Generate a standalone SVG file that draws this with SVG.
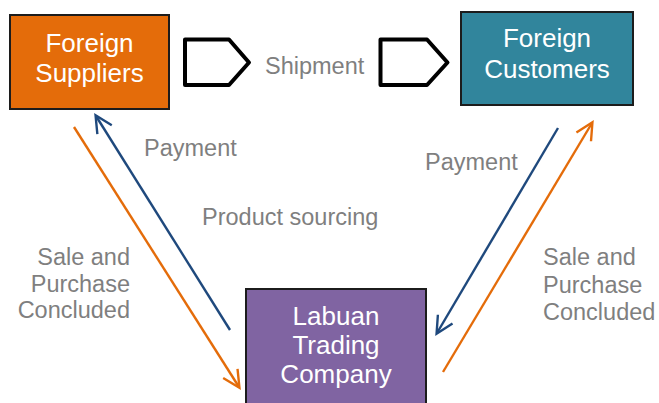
<svg xmlns="http://www.w3.org/2000/svg" width="659" height="403" viewBox="0 0 659 403">
  <style>
    .box { stroke: #1c1c1c; stroke-width: 2; }
    .ntext { font-family: "Liberation Sans", Arial, sans-serif; font-size: 26px; fill: #ffffff; text-anchor: middle; }
    .label { font-family: "Liberation Sans", Arial, sans-serif; font-size: 23.5px; fill: #7f7f7f; }
    .tag { fill: #ffffff; stroke: #000000; stroke-width: 4; stroke-linejoin: round; }
    .blue { stroke: #1f497d; stroke-width: 2.4; fill: none; }
    .orange { stroke: #e46c0a; stroke-width: 2.4; fill: none; }
  </style>
  <defs>
    <marker id="headBlue" viewBox="0 0 10 10" refX="9.5" refY="5" markerWidth="17" markerHeight="17" markerUnits="userSpaceOnUse" orient="auto" overflow="visible">
      <path d="M0,0 L10,5 L0,10" fill="none" stroke="#1f497d" stroke-width="1.4" stroke-linejoin="miter"/>
    </marker>
    <marker id="headOrange" viewBox="0 0 10 10" refX="9.5" refY="5" markerWidth="17" markerHeight="17" markerUnits="userSpaceOnUse" orient="auto" overflow="visible">
      <path d="M0,0 L10,5 L0,10" fill="none" stroke="#e46c0a" stroke-width="1.4" stroke-linejoin="miter"/>
    </marker>
  </defs>

  <rect width="659" height="403" fill="#ffffff"/>

  <g id="suppliers">
    <rect class="box" x="10" y="15" width="159" height="94" fill="#e46c0a"/>
    <text class="ntext" x="89.5" y="52">Foreign</text>
    <text class="ntext" x="89.5" y="82">Suppliers</text>
  </g>

  <g id="customers">
    <rect class="box" x="461" y="12" width="172" height="93" fill="#31859c"/>
    <text class="ntext" x="547" y="47">Foreign</text>
    <text class="ntext" x="547" y="78">Customers</text>
  </g>

  <g id="labuan">
    <rect class="box" x="246" y="289" width="180" height="120" fill="#8064a2"/>
    <text class="ntext" x="336" y="325">Labuan</text>
    <text class="ntext" x="336" y="354">Trading</text>
    <text class="ntext" x="336" y="383">Company</text>
  </g>

  <g id="shipment">
    <path class="tag" d="M185,39.5 L229,39.5 L249,62.5 L229,85 L185,85 Z"/>
    <path class="tag" d="M380.5,39.5 L427,39.5 L447.5,62.5 L427,85 L380.5,85 Z"/>
    <text class="label" x="265" y="74">Shipment</text>
  </g>

  <g id="connectors">
    <line class="blue" x1="230" y1="330" x2="96" y2="116" marker-end="url(#headBlue)"/>
    <line class="orange" x1="74" y1="127" x2="239" y2="387" marker-end="url(#headOrange)"/>
    <line class="blue" x1="558" y1="128" x2="437" y2="333" marker-end="url(#headBlue)"/>
    <line class="orange" x1="443" y1="372" x2="592" y2="123" marker-end="url(#headOrange)"/>
  </g>

  <g id="labels">
    <text class="label" x="144" y="156">Payment</text>
    <text class="label" x="202" y="225">Product sourcing</text>
    <text class="label" x="130" y="265" text-anchor="end">Sale and</text>
    <text class="label" x="130" y="292" text-anchor="end">Purchase</text>
    <text class="label" x="130" y="318" text-anchor="end">Concluded</text>
    <text class="label" x="425" y="170">Payment</text>
    <text class="label" x="543" y="265">Sale and</text>
    <text class="label" x="543" y="293">Purchase</text>
    <text class="label" x="543" y="320">Concluded</text>
  </g>
</svg>
